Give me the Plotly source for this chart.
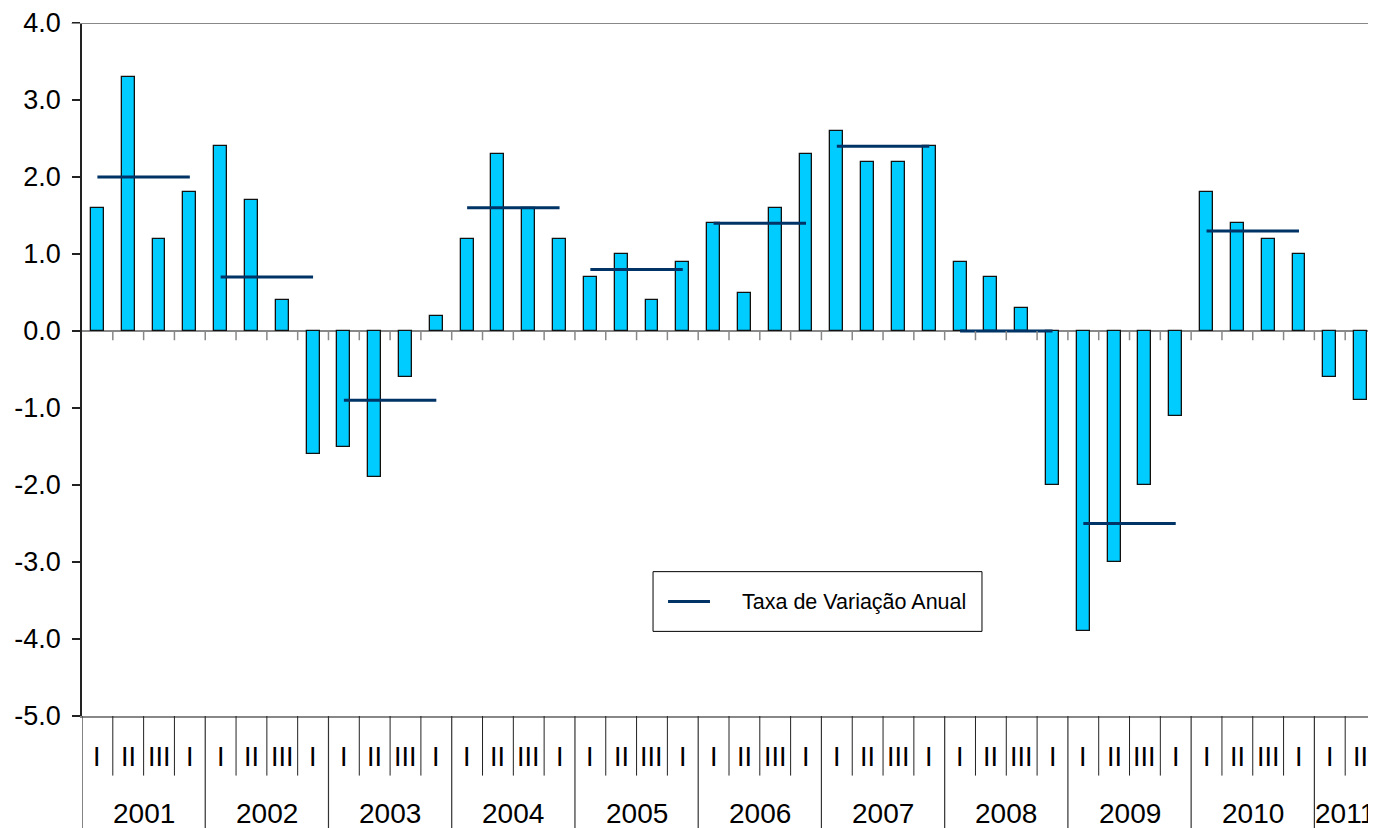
import plotly.graph_objects as go

# ---- data ----
years = ["2001", "2002", "2003", "2004", "2005", "2006", "2007", "2008", "2009", "2010", "2011"]
quarters_per_year = [4, 4, 4, 4, 4, 4, 4, 4, 4, 4, 2]
quarter_labels = ["I", "II", "III", "I"] * 10 + ["I", "II"]

quarterly_change = [
    1.6, 3.3, 1.2, 1.8,      # 2001
    2.4, 1.7, 0.4, -1.6,     # 2002
    -1.5, -1.9, -0.6, 0.2,   # 2003
    1.2, 2.3, 1.6, 1.2,      # 2004
    0.7, 1.0, 0.4, 0.9,      # 2005
    1.4, 0.5, 1.6, 2.3,      # 2006
    2.6, 2.2, 2.2, 2.4,      # 2007
    0.9, 0.7, 0.3, -2.0,     # 2008
    -3.9, -3.0, -2.0, -1.1,  # 2009
    1.8, 1.4, 1.2, 1.0,      # 2010
    -0.6, -0.9,              # 2011
]
annual_rate = [2.0, 0.7, -0.9, 1.6, 0.8, 1.4, 2.4, 0.0, -2.5, 1.3]

ytick_vals = [4, 3, 2, 1, 0, -1, -2, -3, -4, -5]
ytick_text = ["4.0", "3.0", "2.0", "1.0", "0.0", "-1.0", "-2.0", "-3.0", "-4.0", "-5.0"]

legend_name = "Taxa de Variação Anual"

# ---- build ----
FONT = "Liberation Sans, Arial, sans-serif"
LINE_COLOR = "#003366"
n = len(quarterly_change)
xpos = [i + 0.5 for i in range(n)]

fig = go.Figure()
fig.add_trace(go.Bar(
    x=xpos, y=quarterly_change, width=0.42,
    marker=dict(color="#00CCFF", line=dict(color="#111111", width=1.3)),
    showlegend=False, hoverinfo="y",
))

# annual lines: from first to last quarter centre of each year
lx, ly = [], []
start = 0
for k, val in enumerate(annual_rate):
    q = quarters_per_year[k]
    lx += [start + 0.5, start + q - 0.5, None]
    ly += [val, val, None]
    start += q
fig.add_trace(go.Scatter(
    x=lx, y=ly, mode="lines", name=legend_name,
    line=dict(color=LINE_COLOR, width=3), showlegend=False,
))

shapes = []
annotations = []
QSEP = -0.086
YSEP = -0.17
# year separators / labels
start = 0
year_bounds = set()
for k, yr in enumerate(years):
    q = quarters_per_year[k]
    year_bounds.add(start)
    shapes.append(dict(type="line", xref="x", yref="paper", x0=start, x1=start,
                       y0=0, y1=YSEP, line=dict(color="#333333", width=1.2)))
    annotations.append(dict(x=start + q / 2, y=-0.115, xref="x", yref="paper",
                            text=yr, showarrow=False, yanchor="top",
                            font=dict(size=28, color="black", family=FONT)))
    start += q
# quarter separators & zero-line ticks
for b in range(1, n):
    if b not in year_bounds:
        shapes.append(dict(type="line", xref="x", yref="paper", x0=b, x1=b,
                           y0=0, y1=QSEP, line=dict(color="#222222", width=1)))
    shapes.append(dict(type="line", xref="x", yref="y", x0=b, x1=b,
                       y0=0, y1=-0.12, line=dict(color="#888888", width=1.5)))
# quarter labels
for i, ql in enumerate(quarter_labels):
    annotations.append(dict(x=i + 0.5, y=-0.059, xref="x", yref="paper",
                            text=ql, showarrow=False, yanchor="middle",
                            font=dict(size=27, color="black", family=FONT)))
# top border
shapes.append(dict(type="line", xref="paper", yref="y", x0=-0.008, x1=1,
                   y0=4, y1=4, line=dict(color="#888888", width=2)))

# legend box (drawn)
shapes.append(dict(type="rect", xref="paper", yref="paper",
                   x0=0.4413, x1=0.6955, y0=0.1221, y1=0.2083,
                   line=dict(color="black", width=1), fillcolor="white", layer="above"))
shapes.append(dict(type="line", xref="paper", yref="paper",
                   x0=0.4529, x1=0.4853, y0=0.1652, y1=0.1652,
                   line=dict(color=LINE_COLOR, width=3), layer="above"))
annotations.append(dict(x=0.5085, y=0.1652, xref="paper", yref="paper",
                        xanchor="left", yanchor="middle", showarrow=False,
                        text=legend_name,
                        font=dict(size=21.5, color="black", family=FONT)))

fig.update_layout(
    width=1368, height=820,
    margin=dict(l=74, r=0, t=12, b=112),
    paper_bgcolor="white", plot_bgcolor="white",
    font=dict(family=FONT, color="black"),
    bargap=0,
    showlegend=False,
    xaxis=dict(range=[0, n], showticklabels=False, ticks="", showgrid=False,
               zeroline=False, showline=True, linecolor="#888888", linewidth=2),
    yaxis=dict(range=[-5, 4], tickvals=ytick_vals, ticktext=ytick_text,
               ticks="outside", ticklen=8, tickwidth=1.5, tickcolor="#222222",
               showline=True, linecolor="#222222", linewidth=1.5,
               showgrid=False, zeroline=True, zerolinecolor="#888888",
               zerolinewidth=1.5, ticklabelstandoff=6, ticklabeloverflow="allow",
               tickfont=dict(size=27, family=FONT, color="black")),
    shapes=shapes, annotations=annotations,
)

fig.write_html("out.html")
